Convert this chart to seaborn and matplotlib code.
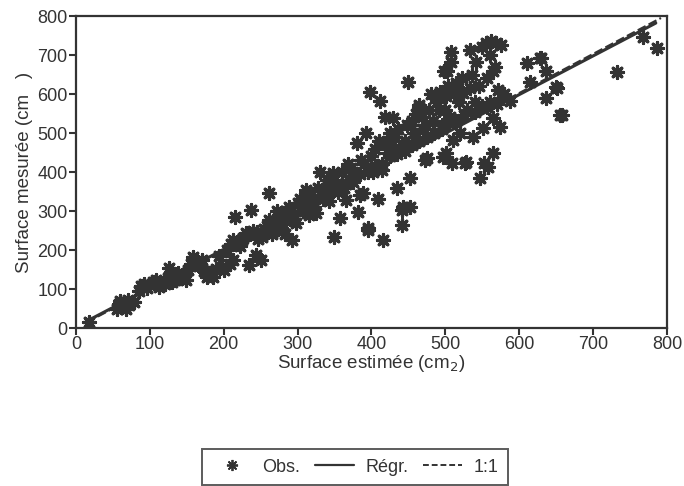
import numpy as np
import pandas as pd
import matplotlib
matplotlib.use("Agg")
import matplotlib.pyplot as plt
import seaborn as sns
from matplotlib.lines import Line2D

# observed points (estimated surface, measured surface), cm2
obs_x = [18, 55, 58, 60, 62, 65, 68, 70, 72, 78, 85, 88, 92, 96, 100, 104, 108, 112, 116, 120,
         124, 126, 130, 134, 138, 142, 146, 149, 152, 156, 158, 162, 166, 170, 174, 178, 182, 185,
         190, 194, 198, 200,
         205, 208, 212, 212, 216, 218, 222, 226, 230, 234, 237, 240, 244, 246, 250, 252, 255, 258,
         261, 262, 265, 268, 270, 272, 275, 278, 280, 283, 285, 288, 290, 292, 295, 298, 300,
         210, 225, 235, 245, 260, 275, 290,
         304, 308, 312, 315, 318, 322, 325, 328, 330, 333, 336, 340, 343, 346, 348, 350, 352, 355,
         357, 360, 363, 366, 368, 370, 373, 376, 380, 382, 384, 386, 389, 390, 393, 395, 396, 398,
         400, 402,
         310, 320, 335, 345, 355, 365, 375, 385, 395,
         405, 409, 410, 412, 414, 416, 418, 420, 422, 425, 428, 429, 432, 434, 436, 438, 441, 441,
         443, 445, 448, 450, 452, 452, 455, 458, 461, 464, 465, 468, 470, 473, 474, 475, 478, 480,
         483, 486, 489, 492, 493, 495, 497, 498, 500,
         405, 415, 425, 435, 445, 455, 465, 475, 485, 495,
         501, 501, 502, 504, 506, 508, 508, 509, 510, 512, 515, 518, 520, 522, 524, 527, 528, 530,
         533, 533, 536, 538, 540, 542, 545, 547, 550, 551, 552, 555, 556, 556, 558, 560, 562, 565,
         565, 565, 567, 569, 572, 574, 576, 580, 587,
         505, 515, 525, 540, 550, 560, 570,
         610, 615, 628, 630, 637, 637, 650, 651, 655, 658, 732, 768, 786]
obs_y = [16, 50, 62, 70, 55, 65, 48, 72, 60, 68, 95, 108, 112, 102, 110, 118, 123, 105, 115, 112,
         128, 153, 118, 123, 140, 130, 135, 123, 150, 165, 183, 170, 160, 175, 145, 132, 140, 132,
         152, 185, 157, 148,
         200, 165, 174, 226, 285, 215, 210, 232, 243, 161, 302, 250, 187, 228, 174, 234, 255, 262,
         277, 345, 240, 250, 275, 300, 265, 285, 268, 240, 300, 310, 280, 226, 290, 270, 320,
         215, 225, 240, 245, 255, 270, 295,
         330, 300, 354, 290, 340, 310, 294, 360, 401, 340, 350, 380, 325, 390, 397, 234, 370, 350,
         281, 400, 360, 328, 420, 380, 410, 390, 474, 298, 340, 430, 345, 420, 499, 256, 251, 606,
         440, 400,
         315, 325, 330, 355, 365, 370, 375, 395, 400,
         460, 332, 480, 581, 405, 226, 542, 474, 450, 499, 470, 538, 490, 358, 510, 456, 264, 302,
         311, 480, 520, 632, 384, 311, 530, 500, 550, 567, 572, 540, 510, 431, 521, 435, 560, 600,
         530, 590, 580, 559, 606, 520, 439, 660, 560,
         415, 420, 440, 445, 455, 470, 480, 490, 500, 510,
         594, 448, 658, 620, 540, 683, 709, 422, 482, 600, 628, 580, 499, 640, 602, 422, 426, 560,
         712, 615, 650, 491, 580, 683, 620, 384, 720, 512, 422, 730, 567, 641, 414, 700, 735, 658,
         538, 448, 670, 730, 610, 516, 725, 600, 581,
         525, 530, 545, 555, 570, 580, 575,
         679, 630, 692, 692, 658, 589, 619, 615, 546, 546, 657, 747, 717]

# regression and 1:1 line end points
reg_x = [15, 785]
reg_y = [18, 782]
one_x = [15, 792]
one_y = [15, 795]

df = pd.DataFrame({"x": obs_x, "y": obs_y})

sns.set_style("ticks")
plt.rcParams["font.family"] = ["Liberation Sans", "DejaVu Sans"]
ink = "#333333"

fig, ax = plt.subplots(figsize=(6.84, 4.86), dpi=100)
fig.subplots_adjust(left=0.111, right=0.975, bottom=0.325, top=0.967)

sns.scatterplot(data=df, x="x", y="y", ax=ax, marker=(8, 2, 0), s=75,
                color=ink, edgecolor=ink, linewidth=2.3, legend=False, zorder=2)
sns.lineplot(x=reg_x, y=reg_y, ax=ax, color=ink, linewidth=2.2, zorder=3)
sns.lineplot(x=one_x, y=one_y, ax=ax, color=ink, linewidth=1.6,
             linestyle=(0, (4, 1.5)), zorder=3)

ax.set_xlim(0, 800)
ax.set_ylim(0, 800)
ax.set_xticks(range(0, 801, 100))
ax.set_yticks(range(0, 801, 100))
ax.tick_params(labelsize=13, colors=ink, length=5, width=1.5, pad=1)
for sp in ax.spines.values():
    sp.set_visible(True)
    sp.set_linewidth(1.6)
    sp.set_color(ink)

ax.set_xlabel("Surface estimée (cm$_2$)", fontsize=13.5, color=ink, labelpad=0)
ax.set_ylabel("Surface mesurée (cm   )", fontsize=13.5, color=ink, labelpad=3)

handles = [
    Line2D([], [], marker=(8, 2, 0), color=ink, linestyle="none", markersize=8, markeredgewidth=1.3),
    Line2D([], [], color=ink, linewidth=1.6),
    Line2D([], [], color=ink, linewidth=1.4, linestyle=(0, (3, 1.5))),
]
leg = fig.legend(handles, ["Obs.", "Régr.", "1:1"], loc="center", ncol=3,
                 bbox_to_anchor=(0.519, 0.039), frameon=True, fancybox=False,
                 fontsize=13, handlelength=2.2, columnspacing=0.8, handletextpad=0.6,
                 borderpad=0.55)
leg.get_frame().set_edgecolor(ink)
leg.get_frame().set_linewidth(1.4)
for t in leg.get_texts():
    t.set_color(ink)

fig.savefig("out.png", dpi=100)
